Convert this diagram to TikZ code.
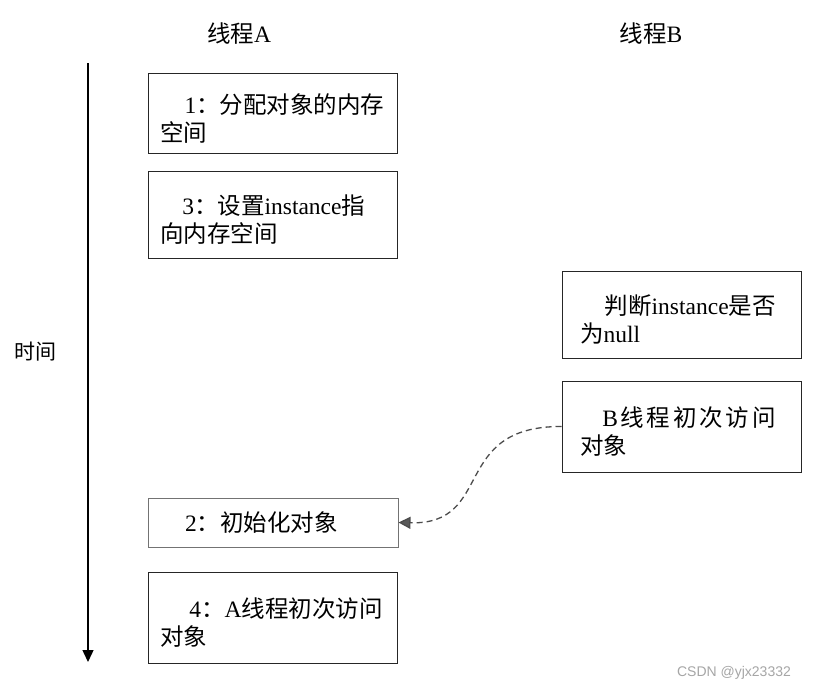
\documentclass[tikz,border=0pt]{standalone}
\usepackage{fontspec}
\setmainfont{Liberation Serif}
\newfontfamily\cjk{Noto Sans CJK SC}
\newfontfamily\wmfont{Liberation Sans}
\usetikzlibrary{arrows.meta}
\newcommand{\tstrut}{\rule{0pt}{30pt}}
\begin{document}
\begin{tikzpicture}[x=1pt,y=-1pt,
  font=\fontsize{23.5}{28}\selectfont,
  boxl/.style={draw=black!85, line width=1pt, minimum width=249pt, inner xsep=12pt, inner ysep=0pt, text width=225pt, align=left},
  boxr/.style={draw=black!85, line width=1pt, minimum width=239pt, inner xsep=18pt, inner ysep=0pt, text width=203pt, align=left},
  lbl/.style={inner sep=0pt},
  cjkw/.style={font=\fontsize{21}{28}\selectfont\cjk}
]
\useasboundingbox (0,0) rectangle (816,691);
\fill[white] (0,0) rectangle (816,691);

% headers
\node[lbl] (ha) at (239,34) {{\cjk 线程}A};
\node[lbl] (hb) at (651,34) {{\cjk 线程}B};

% time axis
\coordinate (t0) at (88,63);
\coordinate (t1) at (88,662);
\draw[line width=1.4pt, -{Triangle[length=12pt,width=11pt]}] (t0) -- (t1);
\node[lbl, cjkw] (time) at (35,352) {时间};

% thread A boxes
\node[boxl, minimum height=80pt] (b1) at (272.5,113)
  {\tstrut\hspace*{1.05em}1{\cjk ：分配对象的内存}\\{\cjk 空间}};
\node[boxl, minimum height=87pt] (b3) at (272.5,214.5)
  {\tstrut\hspace*{0.95em}3{\cjk ：设置}instance{\cjk 指}\\{\cjk 向内存空间}};
\node[boxl, draw=black!55, minimum width=250pt, minimum height=49pt] (b2) at (273,522.5)
  {\hspace*{1.05em}2{\cjk ：初始化对象}};
\node[boxl, minimum height=91pt] (b4) at (272.5,617.5)
  {\tstrut\hspace*{1.25em}4{\cjk ：}A{\cjk 线程初次访问}\\{\cjk 对象}};

% thread B boxes
\node[boxr, minimum height=87pt] (bj) at (681.5,314.5)
  {\tstrut\hspace*{1.05em}{\cjk 判断}instance{\cjk 是否}\\{\cjk 为}null};
\node[boxr, minimum height=91pt] (bb) at (681.5,426.5)
  {\tstrut\hspace*{0.95em}B{\cjk\hspace{2pt}线\hspace{3pt}程\hspace{3pt}初\hspace{3pt}次\hspace{3pt}访\hspace{3pt}问}\\{\cjk 对象}};

% dashed connector
\draw[gray!60!black, line width=1.3pt, dash pattern=on 6pt off 4pt,
  -{Triangle[length=12pt,width=12pt,fill=gray!70!black]}]
  (bb.west) .. controls (450,426) and (495,525) .. (b2.east);

% watermark
\node[lbl, font=\fontsize{14}{16}\selectfont\wmfont, text=gray!70] (wm) at (734,673) {CSDN @yjx23332};
\end{tikzpicture}
\end{document}
